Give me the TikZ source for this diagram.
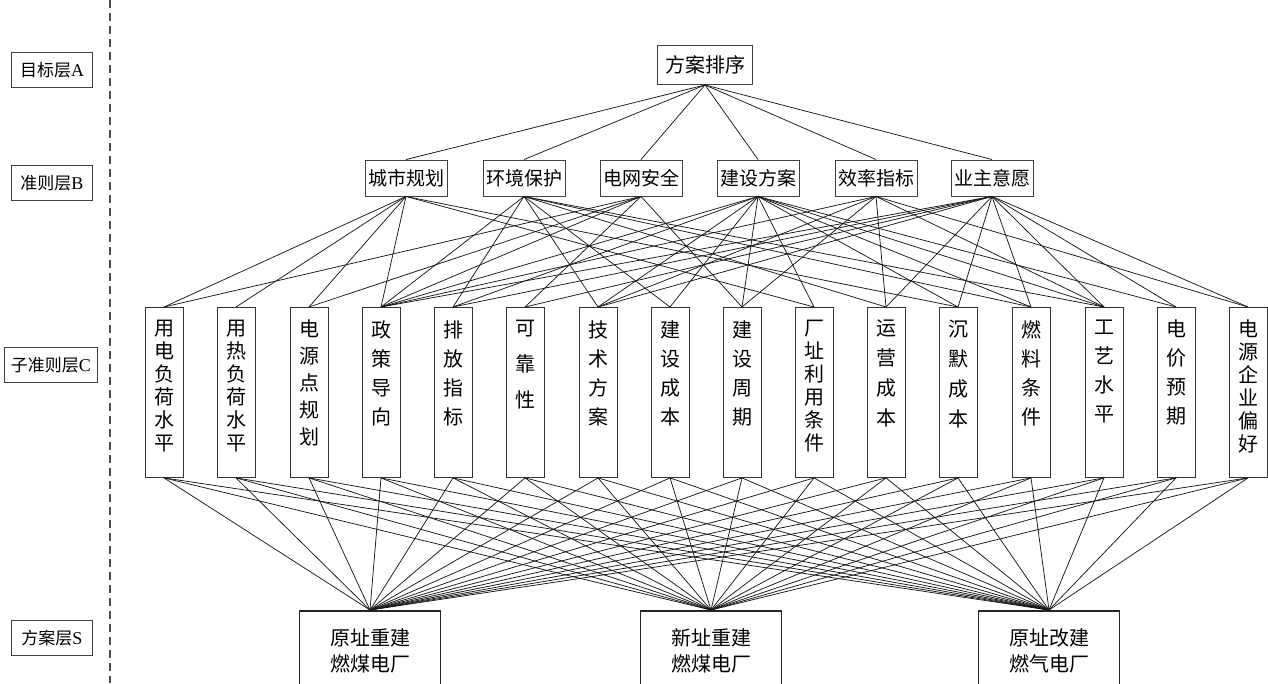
\documentclass[tikz,border=0pt]{standalone}
\usepackage{fontspec}
\setmainfont{Liberation Serif}
\newfontfamily\cjk{Noto Sans CJK SC}

\tikzset{
  capa/.style={draw=black!75, line width=0.9pt, minimum width=81pt, minimum height=35pt, inner sep=0pt, font=\cjk\fontsize{17}{17}\selectfont},
  criterio/.style={draw=black!75, line width=0.9pt, minimum width=82pt, minimum height=36pt, inner sep=0pt, font=\cjk\fontsize{19}{19}\selectfont},
  subcrit/.style={draw=black!80, line width=0.9pt, minimum width=38pt, minimum height=170pt, inner sep=0pt, anchor=north},
  vtexto/.style={anchor=north, inner sep=0pt, align=center, font=\cjk\fontsize{20}{#1}\selectfont},
  alternativa/.style={draw=black!85, line width=1.8pt, minimum width=141pt, minimum height=80pt, anchor=north, align=center, inner sep=0pt, font=\cjk\fontsize{20}{26}\selectfont},
  enlace/.style={black!90, line width=0.75pt}
}

\begin{document}
\begin{tikzpicture}[x=1pt, y=-1pt]
    \useasboundingbox (0,0) rectangle (1268,683);

    % Linea divisoria
    \draw[black!70, line width=1.5pt, dash pattern=on 8pt off 5pt] (110,0) -- (110,683);

    % Nombres de las capas
    \node[capa] (la) at (52,70) {目标层{\rmfamily\fontsize{18}{18}\selectfont A}};
    \node[capa] (lb) at (52,183) {准则层{\rmfamily\fontsize{18}{18}\selectfont B}};
    \node[capa, minimum width=93pt] (lc) at (51,365) {子准则层{\rmfamily\fontsize{18}{18}\selectfont C}};
    \node[capa] (ls) at (52,638) {方案层{\rmfamily\fontsize{18}{18}\selectfont S}};

    % Objetivo
    \node[criterio, minimum width=95pt, minimum height=39pt, font=\cjk\fontsize{20}{20}\selectfont] (a) at (705,65) {方案排序};

    % Criterios
    \node[criterio] (b1) at (406,178) {城市规划};
    \node[criterio] (b2) at (524,178) {环境保护};
    \node[criterio] (b3) at (641,178) {电网安全};
    \node[criterio] (b4) at (758,178) {建设方案};
    \node[criterio] (b5) at (876,178) {效率指标};
    \node[criterio] (b6) at (992,178) {业主意愿};

    % Subcriterios
    \foreach \x/\n/\t/\s in {164/c1/{用\\电\\负\\荷\\水\\平}/23, 236/c2/{用\\热\\负\\荷\\水\\平}/23,
        309/c3/{电\\源\\点\\规\\划}/27, 381/c4/{政\\策\\导\\向}/29, 453/c5/{排\\放\\指\\标}/29,
        525/c6/{可\\靠\\性}/36, 598/c7/{技\\术\\方\\案}/29, 670/c8/{建\\设\\成\\本}/29,
        742/c9/{建\\设\\周\\期}/29, 814/c10/{厂\\址\\利\\用\\条\\件}/23, 886/c11/{运\\营\\成\\本}/30,
        958/c12/{沉\\默\\成\\本}/30, 1031/c13/{燃\\料\\条\\件}/29, 1104/c14/{工\\艺\\水\\平}/29,
        1176/c15/{电\\价\\预\\期}/29, 1248/c16/{电\\源\\企\\业\\偏\\好}/23} {
      \node[subcrit] (\n) at (\x,307) {};
      \node[vtexto=\s] at ([yshift=-13pt]\n.north) {\t};
    }

    % Alternativas
    \node[alternativa] (s1) at (370,610) {原址重建\\燃煤电厂};
    \node[alternativa] (s2) at (711,610) {新址重建\\燃煤电厂};
    \node[alternativa] (s3) at (1049,610) {原址改建\\燃气电厂};

    % Enlaces A-B
    \foreach \b in {b1,b2,b3,b4,b5,b6}
      \draw[enlace] (a.south) -- (\b.north);

    % Enlaces B-C
    \foreach \b/\lista in {b1/{c1,c2,c3,c4,c10,c12},
        b2/{c4,c5,c7,c8,c11,c13,c14},
        b3/{c1,c3,c4,c6,c9},
        b4/{c4,c5,c7,c8,c9,c10,c12,c13,c14,c15},
        b5/{c4,c7,c9,c11,c14,c16},
        b6/{c4,c5,c6,c7,c11,c12,c13,c14,c15,c16}}
      \foreach \c in \lista
        \draw[enlace] (\b.south) -- (\c.north);

    % Enlaces C-S
    \foreach \c in {c1,c2,c3,c4,c5,c6,c7,c8,c9,c10,c11,c12,c13,c14,c15,c16}
      \foreach \s in {s1,s2,s3}
        \draw[enlace] (\c.south) -- (\s.north);

\end{tikzpicture}
\end{document}
